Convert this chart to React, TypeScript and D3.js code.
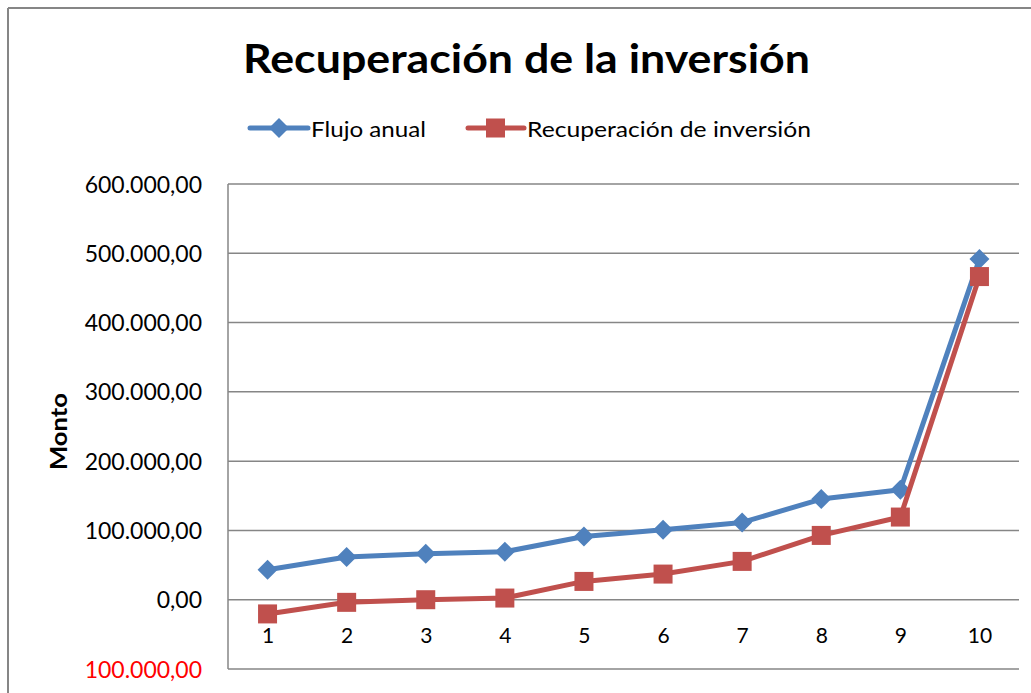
import React from "react";
import * as d3 from "d3";

const categories = ["1", "2", "3", "4", "5", "6", "7", "8", "9", "10"];
const flujoAnual = [43300, 61600, 66400, 69300, 91300, 101000, 111500, 145300, 158700, 491600];
const recuperacion = [-20500, -3800, 0, 2400, 26400, 37000, 55300, 92800, 119300, 466400];
const yTicks = [-100000, 0, 100000, 200000, 300000, 400000, 500000, 600000];
const seriesNames = ["Flujo anual", "Recuperación de inversión"];
const titleText = "Recuperación de la inversión";
const yAxisTitle = "Monto";

const BLUE = "#4F81BD";
const RED = "#C0504D";
const GRID = "#868686";
const FONT = "Lato, 'Open Sans', sans-serif";

function fmt(v: number): string {
  const a = Math.abs(v);
  const s = a.toFixed(2);
  const [intPart, dec] = s.split(".");
  const withDots = intPart.replace(/\B(?=(\d{3})+(?!\d))/g, ".");
  return withDots + "," + dec;
}

export default function App() {
  const W = 1031;
  const H = 693;
  const left = 228;
  const right = 1019;
  const top = 184;
  const bottom = 669;

  const x = d3.scalePoint<string>().domain(categories).range([left, right]).padding(0.5);
  const y = d3.scaleLinear().domain([-100000, 600000]).range([bottom, top]);

  const line = d3
    .line<number>()
    .x((_, i) => x(categories[i]) as number)
    .y((d) => y(d));

  const diamond = (cx: number, cy: number, r: number) =>
    `M${cx},${cy - r}L${cx + r},${cy}L${cx},${cy + r}L${cx - r},${cy}Z`;

  return (
    <div style={{ position: "absolute", left: 0, top: 0 }}>
      <svg width={W} height={H} style={{ display: "block", background: "#fff" }}>
        {/* outer chart border */}
        <line x1={8} y1={8} x2={W} y2={8} stroke={GRID} strokeWidth={2} />
        <line x1={8} y1={8} x2={8} y2={H} stroke={GRID} strokeWidth={2} />

        {/* title */}
        <text
          x={526.5}
          y={73}
          textAnchor="middle"
          fontFamily={FONT}
          fontWeight="bold"
          fontSize={40}
          textLength={567}
          lengthAdjust="spacingAndGlyphs"
          fill="#000"
        >
          {titleText}
        </text>

        {/* legend */}
        <g>
          <line x1={250} y1={128} x2={308} y2={128} stroke={BLUE} strokeWidth={5} strokeLinecap="round" />
          <path d={diamond(279, 128, 10)} fill={BLUE} />
          <text x={311} y={137} fontFamily={FONT} fontSize={22} textLength={115} lengthAdjust="spacingAndGlyphs" fill="#000">
            {seriesNames[0]}
          </text>
          <line x1={468} y1={128} x2={524} y2={128} stroke={RED} strokeWidth={5} strokeLinecap="round" />
          <rect x={486} y={118.5} width={19} height={19} fill={RED} />
          <text x={527} y={137} fontFamily={FONT} fontSize={22} textLength={284} lengthAdjust="spacingAndGlyphs" fill="#000">
            {seriesNames[1]}
          </text>
        </g>

        {/* gridlines */}
        {yTicks.map((t) => (
          <line key={t} x1={left} x2={right} y1={y(t)} y2={y(t)} stroke={GRID} strokeWidth={1.5} />
        ))}
        <line x1={left} x2={left} y1={top} y2={bottom} stroke={GRID} strokeWidth={1.5} />

        {/* y tick labels */}
        {yTicks.map((t) => (
          <text
            key={"l" + t}
            x={202}
            y={y(t) + 8.5}
            textAnchor="end"
            fontFamily={FONT}
            fontSize={23}
            fill={t < 0 ? "#FF0000" : "#000"}
          >
            {fmt(t)}
          </text>
        ))}

        {/* y axis title */}
        <text
          transform={`translate(67,431.5) rotate(-90)`}
          textAnchor="middle"
          fontFamily={FONT}
          fontWeight="bold"
          fontSize={22}
          textLength={77}
          lengthAdjust="spacingAndGlyphs"
          fill="#000"
        >
          {yAxisTitle}
        </text>

        {/* x labels */}
        {categories.map((c) => (
          <text
            key={"x" + c}
            x={(x(c) as number) + 0.5}
            y={643}
            textAnchor="middle"
            fontFamily={FONT}
            fontSize={21}
            fill="#000"
          >
            {c}
          </text>
        ))}

        {/* series 1 */}
        <path d={line(flujoAnual) || ""} fill="none" stroke={BLUE} strokeWidth={5} strokeLinejoin="round" />
        {flujoAnual.map((v, i) => (
          <path key={"d" + i} d={diamond(x(categories[i]) as number, y(v), 10)} fill={BLUE} />
        ))}

        {/* series 2 */}
        <path d={line(recuperacion) || ""} fill="none" stroke={RED} strokeWidth={5} strokeLinejoin="round" />
        {recuperacion.map((v, i) => (
          <rect
            key={"s" + i}
            x={(x(categories[i]) as number) - 9.5}
            y={y(v) - 9.5}
            width={19}
            height={19}
            fill={RED}
          />
        ))}
      </svg>
    </div>
  );
}
